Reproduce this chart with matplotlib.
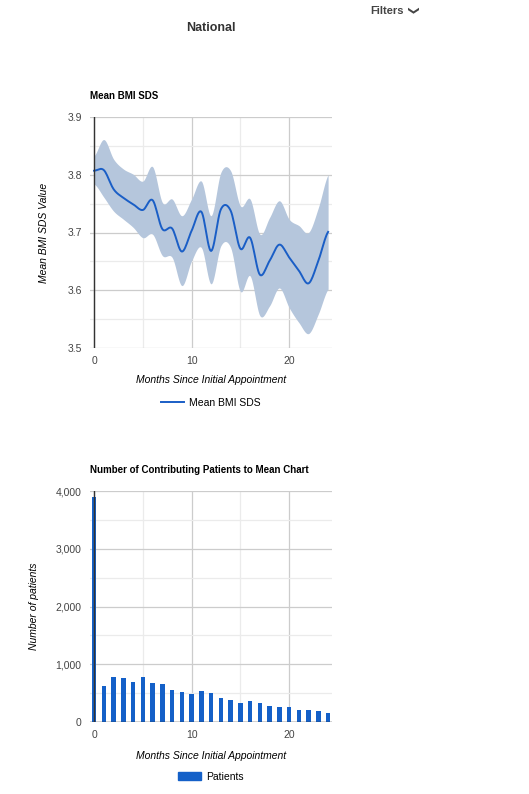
import numpy as np
import matplotlib.pyplot as plt
from matplotlib.lines import Line2D
from matplotlib.patches import Patch

plt.rcParams['font.family'] = ['Liberation Sans', 'DejaVu Sans']

# mean BMI SDS
months = np.arange(25)
mean_sds = [3.807, 3.808, 3.775, 3.760, 3.749, 3.739, 3.756, 3.706, 3.707, 3.667,
            3.703, 3.736, 3.668, 3.740, 3.738, 3.672, 3.691, 3.627, 3.651, 3.679,
            3.657, 3.634, 3.612, 3.651, 3.701]
upper_sds = [3.833, 3.861, 3.827, 3.810, 3.801, 3.789, 3.814, 3.752, 3.758, 3.729,
             3.758, 3.789, 3.729, 3.804, 3.807, 3.746, 3.758, 3.697, 3.726, 3.755,
             3.723, 3.712, 3.700, 3.743, 3.800]
lower_sds = [3.784, 3.761, 3.737, 3.723, 3.709, 3.691, 3.697, 3.660, 3.657, 3.608,
             3.651, 3.674, 3.611, 3.677, 3.674, 3.598, 3.625, 3.556, 3.573, 3.604,
             3.570, 3.544, 3.525, 3.559, 3.602]

# patients per month
patients = [3890, 617, 784, 761, 697, 772, 674, 657, 553, 524, 490, 542, 501, 421,
            386, 334, 363, 334, 282, 265, 265, 213, 207, 196, 150]

line_col = "#1a5ec6"
band_col = "#b5c6dc"
bar_col = "#1460c8"


def smooth(x, y, n=12):
    # catmull-rom curve through the points, only for drawing
    x = np.asarray(x, float)
    y = np.asarray(y, float)
    px = np.concatenate(([x[0]], x, [x[-1]]))
    py = np.concatenate(([y[0]], y, [y[-1]]))
    xs, ys = [], []
    for i in range(1, len(px) - 2):
        t = np.linspace(0, 1, n, endpoint=False)
        m0 = (py[i + 1] - py[i - 1]) / 2
        m1 = (py[i + 2] - py[i]) / 2
        h00 = 2 * t**3 - 3 * t**2 + 1
        h10 = t**3 - 2 * t**2 + t
        h01 = -2 * t**3 + 3 * t**2
        h11 = t**3 - t**2
        xs.append(px[i] + t * (px[i + 1] - px[i]))
        ys.append(h00 * py[i] + h10 * m0 + h01 * py[i + 1] + h11 * m1)
    xs.append([x[-1]])
    ys.append([y[-1]])
    return np.concatenate(xs), np.concatenate(ys)


def style_axes(ax):
    for s in ax.spines.values():
        s.set_visible(False)
    ax.tick_params(length=0, labelsize=7.5, colors="#444444", pad=6)
    ax.set_xticks([0, 10, 20])
    ax.set_xticks([5, 15], minor=True)
    ax.grid(which="major", color="#cccccc", lw=0.9)
    ax.grid(which="minor", color="#ebebeb", lw=0.9)
    ax.tick_params(which="minor", length=0)
    ax.set_axisbelow(True)
    ax.set_xlim(-0.42, 24.4)


fig = plt.figure(figsize=(5.29, 7.94), dpi=100)
W, H = 529, 794


def rect(x0, y0, x1, y1):
    return [x0 / W, 1 - y1 / H, (x1 - x0) / W, (y1 - y0) / H]


fig.text(211 / W, 1 - 28 / H, "National", ha="center", va="center",
         fontsize=9, fontweight="bold", color="#333333")
fig.text(370 / W, 1 - 11 / H, "Filters", ha="left", va="center",
         fontsize=8, fontweight="bold", color="#444444")
fig.text(411 / W, 1 - 11 / H, "\u276F", ha="center", va="center", rotation=-90,
         fontsize=8, fontweight="bold", color="#444444", family="DejaVu Sans")

# top chart
ax1 = fig.add_axes(rect(90, 117, 332, 348))
style_axes(ax1)
sx, su = smooth(months, upper_sds)
_, sl = smooth(months, lower_sds)
_, sm = smooth(months, mean_sds)
ax1.fill_between(sx, sl, su, color=band_col, lw=0)
ax1.plot(sx, sm, color=line_col, lw=1.4)
ax1.set_ylim(3.5, 3.9)
ax1.set_yticks([3.5, 3.6, 3.7, 3.8, 3.9])
ax1.set_yticks([3.55, 3.65, 3.75, 3.85], minor=True)
ax1.axvline(0, color="#333333", lw=1)
ax1.set_ylabel("Mean BMI SDS Value", fontsize=7.5, style="italic", labelpad=13)
ax1.set_xlabel("Months Since Initial Appointment", fontsize=7.5, style="italic", labelpad=6)
fig.text(90 / W, 1 - 96 / H, "Mean BMI SDS", fontsize=7, fontweight="bold", va="center")
fig.legend(handles=[Line2D([], [], color=line_col, lw=1.4)], labels=["Mean BMI SDS"],
           loc="center", bbox_to_anchor=(211 / W, 1 - 403 / H), frameon=False,
           fontsize=7.5, handlelength=2.2, handletextpad=0.5)

# bottom chart
ax2 = fig.add_axes(rect(90, 491, 332, 722))
style_axes(ax2)
ax2.bar(months, patients, width=0.45, color=bar_col)
ax2.set_ylim(0, 4000)
ax2.set_yticks([0, 1000, 2000, 3000, 4000])
ax2.set_yticks([500, 1500, 2500, 3500], minor=True)
ax2.yaxis.set_major_formatter(plt.FuncFormatter(lambda v, p: f"{int(v):,}"))
ax2.axvline(0, color="#333333", lw=1)
ax2.axhline(0, color="#333333", lw=1)
ax2.set_ylabel("Number of patients", fontsize=7.5, style="italic", labelpad=12)
ax2.set_xlabel("Months Since Initial Appointment", fontsize=7.5, style="italic", labelpad=8)
fig.text(90 / W, 1 - 470 / H, "Number of Contributing Patients to Mean Chart",
         fontsize=7, fontweight="bold", va="center")
fig.legend(handles=[Patch(color=bar_col)], labels=["Patients"],
           loc="center", bbox_to_anchor=(211 / W, 1 - 777 / H), frameon=False,
           fontsize=7.5, handlelength=2.2, handleheight=0.8, handletextpad=0.5)

fig.savefig("out.png", dpi=100)
